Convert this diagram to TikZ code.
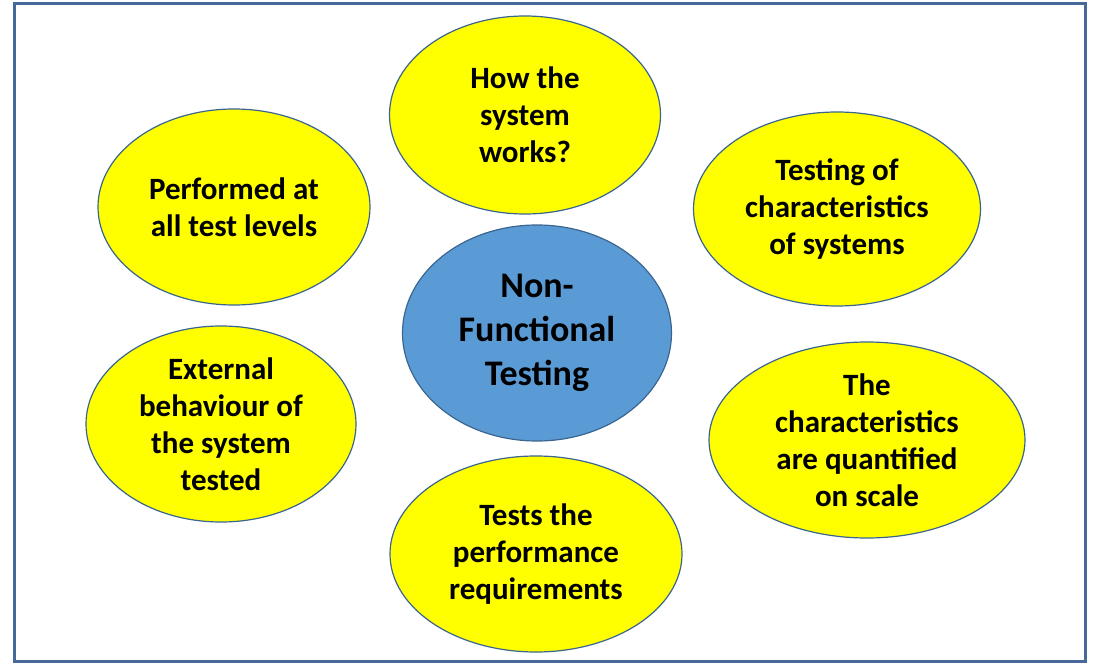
\documentclass[tikz,border=0pt]{standalone}
\usepackage{fontspec}
\setmainfont{Carlito}
\usetikzlibrary{shapes.geometric}
\definecolor{frameblue}{HTML}{46699A}
\definecolor{edgeblue}{HTML}{3A6590}
\definecolor{centerblue}{HTML}{5B9BD5}
\definecolor{yel}{HTML}{FFFF00}
\begin{document}
\begin{tikzpicture}[x=1pt,y=-1pt,
  bubble/.style={ellipse, draw=edgeblue, line width=1.2pt, fill=yel, inner sep=0pt,
    align=center, font=\fontsize{31}{37}\selectfont\bfseries},
  hub/.style={ellipse, draw=edgeblue, line width=1.2pt, fill=centerblue, inner sep=0pt,
    align=center, font=\fontsize{36}{44}\selectfont\bfseries}]
\useasboundingbox (0,0) rectangle (1098,666);
\node[draw=frameblue, line width=3pt, minimum width=1071pt, minimum height=657pt, inner sep=0pt] (frame) at (549.5,332.5) {};
\node[bubble, minimum width=271pt, minimum height=198pt] (top) at (525,115) {How the\\system\\works?};
\node[bubble, minimum width=272pt, minimum height=196pt] (tl) at (234,207) {Performed at\\all test levels};
\node[bubble, minimum width=287pt, minimum height=194pt] (tr) at (837,209) {Testing of\\characteristics\\of systems};
\node[hub, minimum width=269pt, minimum height=216pt] (hub) at (537,333) {Non-\\Functional\\Testing};
\node[bubble, minimum width=270pt, minimum height=196pt] (l) at (221,424) {External\\behaviour of\\the system\\tested};
\node[bubble, minimum width=316pt, minimum height=196pt] (r) at (867,440) {The\\characteristics\\are quantified\\on scale};
\node[bubble, minimum width=292pt, minimum height=196pt] (b) at (536,554) {Tests the\\performance\\requirements};
\end{tikzpicture}
\end{document}
